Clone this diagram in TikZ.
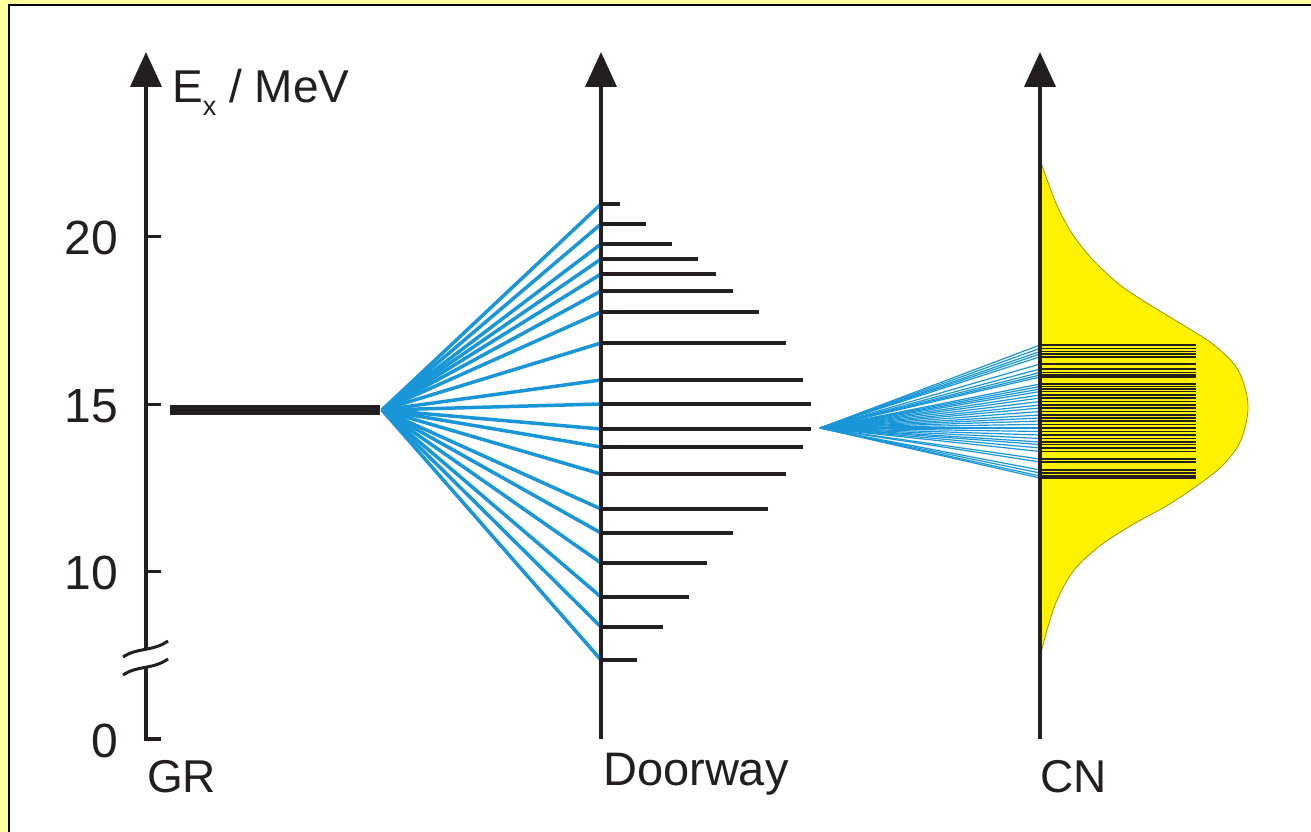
\documentclass[tikz,border=0pt]{standalone}
\usepackage{fontspec}
\setmainfont{Liberation Sans}
\usetikzlibrary{arrows.meta}
\definecolor{ink}{HTML}{231F20}
\definecolor{fanblue}{RGB}{25,150,215}
\definecolor{cnyellow}{RGB}{255,242,0}
\definecolor{bgyellow}{RGB}{255,255,160}
\begin{document}
\begin{tikzpicture}[x=1pt,y=-1pt,
  axisline/.style={ink, line width=4pt},
  axistip/.style={-{Triangle[width=31pt,length=35pt]}},
  tickline/.style={ink, line width=3pt},
  levelline/.style={ink, line width=4pt},
  fanline/.style={fanblue, line width=3.5pt},
  cnfan/.style={fanblue, line width=1.2pt},
  cnlevel/.style={ink, line width=1.5pt},
  lbl/.style={ink, inner sep=0pt, font=\fontsize{46}{50}\selectfont},
  ticklbl/.style={ink, inner sep=0pt, anchor=base east, font=\fontsize{48}{52}\selectfont}]
\useasboundingbox (0,0) rectangle (1311,832);
% frame
\fill[bgyellow] (0,0) rectangle (1311,832);
\fill[white] (9,5) rectangle (1320,840);
\draw[black, line width=2pt] (9,840) -- (9,5) -- (1320,5);

% ---- GR axis ----
\coordinate (grtop) at (146,52);
\coordinate (grbrk) at (146,648);
\coordinate (grlow) at (146,666);
\coordinate (grfoot) at (161,739);
\draw[axisline, line join=miter] (grfoot) -- (146,739) -- (grlow);
\draw[axisline, axistip] (grbrk) -- (grtop);
\draw[ink, line width=3pt] (123,657) .. controls (138,647) and (152,652) .. (168,641);
\draw[ink, line width=3pt] (123,675) .. controls (138,665) and (152,670) .. (168,659);
\foreach \y/\t in {236/20, 404/15, 571/10} {
  \draw[tickline] (146,\y) -- (161,\y);
  \node[ticklbl] (tick\t) at (118,\y+18) {\t};
}
\node[ticklbl] (tick0) at (118,757) {0};
\node[lbl, anchor=base west, font=\fontsize{46}{50}\selectfont] (exlabel) at (172,103)
  {E\raisebox{-0.28em}{\fontsize{27}{27}\selectfont x} / MeV};
\node[lbl, anchor=base west] (grlabel) at (147,792) {GR};

% GR level
\coordinate (grL) at (170,410);
\coordinate (apexD) at (382,410);
\draw[ink, line width=10pt] (grL) -- (380,410);

% ---- Doorway ----
\coordinate (dtop) at (601,52);
\coordinate (dbot) at (601,739);
\foreach \y in {204,224,244,259,274,291,312,343,380,404,429,447,474,509,533,563,597,627,660} {
  \draw[fanline] (apexD) -- (601,\y);
}
\foreach \y/\e in {204/620,224/646,244/672,259/698,274/716,291/733,312/759,343/786,380/803,404/811,429/811,447/803,474/786,509/768,533/733,563/707,597/689,627/663,660/637} {
  \draw[levelline] (601,\y) -- (\e,\y);
}
\draw[axisline, axistip] (dbot) -- (dtop);
\node[lbl, anchor=base west, font=\fontsize{47}{51}\selectfont] (dlabel) at (603,785) {Doorway};

% ---- CN ----
\filldraw[fill=cnyellow, draw=ink!45!cnyellow, line width=0.8pt]
  plot[smooth, tension=0.55] coordinates {(1040,160) (1049,185) (1059,210) (1073,235) (1093,260)
   (1120,285) (1150,305) (1183,325) (1214,345) (1238,370) (1248,405) (1241,440) (1223,465)
   (1198,485) (1168,505) (1132,525) (1101,545) (1074,570) (1057,600) (1047,630) (1040,657)} -- cycle;
\coordinate (apexC) at (820,428);
\foreach \y in {345,348.3,351.5,354,356.8,364,369,372.5,375,377,384,386.5,389,391.5,395,398,401.5,405,408,411.5,415,418,421,424.3,428,431.5,435,438.5,442,444.5,448,451.5,459,462,470,473,476,478} {
  \draw[cnfan] (apexC) -- (1040,\y);
  \draw[cnlevel] (1040,\y) -- (1196,\y);
}
\coordinate (ctop) at (1040,52);
\coordinate (cbot) at (1040,739);
\draw[axisline, axistip] (cbot) -- (ctop);
\node[lbl, anchor=base west] (cnlabel) at (1040,792) {CN};
\end{tikzpicture}
\end{document}
